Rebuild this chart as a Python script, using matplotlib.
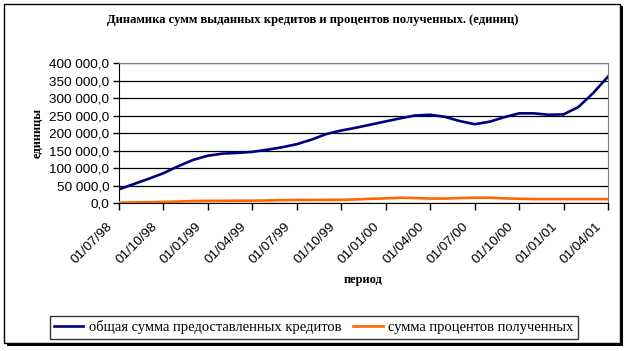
import matplotlib
matplotlib.use('Agg')
import matplotlib.pyplot as plt
import matplotlib.transforms as mtransforms
from matplotlib.patches import Rectangle
from matplotlib.ticker import FuncFormatter

# monthly values, 07/98 .. 04/01
credits = [40000, 55000, 70000, 86000, 106000, 124000, 136000, 142000, 144000, 147000,
           153000, 160000, 169000, 182000, 198000, 208000, 216000, 225000, 234000, 243000,
           251000, 253000, 247000, 235000, 226000, 233000, 246000, 257000, 257000, 253000,
           254000, 275000, 315000, 362000]
interest = [2000, 2500, 3000, 4000, 5000, 6500, 7000, 7000, 7500, 7500,
            8000, 9000, 9500, 9500, 10000, 10000, 11000, 13000, 14000, 16000,
            15000, 13500, 13500, 15000, 16000, 16000, 14000, 13000, 12000, 12000,
            12000, 12000, 12000, 12000]
tick_labels = ['01/07/98', '01/10/98', '01/01/99', '01/04/99', '01/07/99', '01/10/99',
               '01/01/00', '01/04/00', '01/07/00', '01/10/00', '01/01/01', '01/04/01']

title = 'Динамика сумм выданных кредитов и процентов полученных. (единиц)'
series_names = ['общая сумма предоставленных кредитов', 'сумма процентов полученных']

serif = ['Liberation Serif', 'DejaVu Serif']
sans = ['Liberation Sans', 'DejaVu Sans']

fig = plt.figure(figsize=(6.26, 3.51), dpi=100)

# outer frame with shadow
fig.patches.append(Rectangle((7 / 626, 5 / 351), 616 / 626, 340 / 351, transform=fig.transFigure,
                             facecolor='black', edgecolor='none', zorder=-2))
fig.patches.append(Rectangle((4 / 626, 8 / 351), 616 / 626, 339 / 351, transform=fig.transFigure,
                             facecolor='white', edgecolor='black', linewidth=1, zorder=-1))

ax = fig.add_axes([119 / 626, 1 - 203.3 / 351, 489 / 626, 140 / 351])
ax.set_facecolor('none')
x = list(range(len(credits)))
ax.plot(x, credits, color='#000080', linewidth=1.9, label=series_names[0], zorder=3)
ax.plot(x, interest, color='#FF6600', linewidth=1.9, label=series_names[1], zorder=3)

ax.set_xlim(0, len(credits) - 1)
ax.set_ylim(0, 400000)
ax.set_yticks(range(0, 400001, 50000))
ax.yaxis.set_major_formatter(FuncFormatter(lambda v, p: '{:,.1f}'.format(v).replace(',', ' ').replace('.', ',')))
ax.set_xticks(range(0, len(credits), 3))
ax.set_xticklabels(tick_labels, rotation=45, ha='right', va='center', rotation_mode='anchor')
ax.grid(axis='y', color='black', linewidth=0.9)
ax.set_axisbelow(True)

for s in ['top', 'right']:
    ax.spines[s].set_color('#808080')
for s in ['left', 'bottom']:
    ax.spines[s].set_color('black')
ax.tick_params(axis='x', direction='out', length=5, width=1, pad=3)
ax.tick_params(axis='y', direction='out', length=4, width=1, pad=3)
shift = mtransforms.ScaledTranslation(-8 / 100, -10 / 100, fig.dpi_scale_trans)
for lab in ax.get_yticklabels():
    lab.set_family(sans)
    lab.set_fontsize(9.7)
for lab in ax.get_xticklabels():
    lab.set_family(sans)
    lab.set_fontsize(9.7)
    lab.set_transform(lab.get_transform() + shift)

fig.text(313 / 626, 1 - 20 / 351, title, ha='center', va='center', family=serif,
         fontsize=9.1, fontweight='bold')
fig.text(38 / 626, 1 - 133 / 351, 'единицы', ha='center', va='center', rotation=90,
         family=serif, fontsize=9, fontweight='bold')
fig.text(363 / 626, 1 - 280 / 351, 'период', ha='center', va='center', family=serif,
         fontsize=9, fontweight='bold')

leg = fig.legend(loc='center', bbox_to_anchor=(314 / 626, 1 - 327.5 / 351), ncol=2,
                 frameon=True, fancybox=False, prop={'family': serif, 'size': 10.5},
                 handlelength=2.0, handletextpad=0.4, columnspacing=0.8, borderpad=0.3)
leg.get_frame().set_edgecolor('black')
leg.get_frame().set_linewidth(1)

fig.savefig('out.png', dpi=100)
